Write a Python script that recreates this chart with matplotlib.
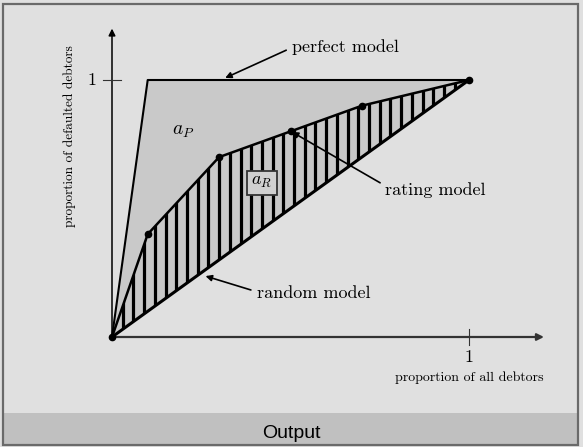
import numpy as np
import matplotlib
matplotlib.use("Agg")
import matplotlib.pyplot as plt
from matplotlib.patches import Polygon, Rectangle

plt.rcParams['mathtext.fontset'] = 'cm'
plt.rcParams['font.family'] = ['cmr10', 'DejaVu Serif']

# curve data
perfect_x = [0.0, 0.1, 1.0]
perfect_y = [0.0, 1.0, 1.0]
rating_x = [0.0, 0.1, 0.3, 0.5, 0.7, 1.0]
rating_y = [0.0, 0.4, 0.7, 0.8, 0.9, 1.0]
random_x = [0.0, 1.0]
random_y = [0.0, 1.0]

W, H = 583, 447
fig = plt.figure(figsize=(W / 100, H / 100), dpi=100, facecolor='#e0e0e0')

# window frame and the Output bar (behind the axes)
fig.add_artist(Rectangle((3 / W, 2 / H), 575 / W, 32 / H, transform=fig.transFigure,
                         facecolor='#c0c0c0', edgecolor='none', zorder=-5))
fig.add_artist(Rectangle((3 / W, 2 / H), 575 / W, 441 / H, transform=fig.transFigure,
                         facecolor='none', edgecolor='#6a6a6a', linewidth=1.6,
                         zorder=-4))
fig.text(291 / W, (447 - 434) / H, 'Output', ha='center', va='center',
         fontsize=14, family='Liberation Sans', color='black')

# axes mapped so that (0,0) sits at pixel (112,337), (1,1) at (469,80)
ax = fig.add_axes([0, 0, 1, 1])
ax.set_facecolor('none')
sx, sy = 357.0, 257.0
ax.set_xlim(-112 / sx, (W - 112) / sx)
ax.set_ylim(-(H - 337) / sy, 337 / sy)
ax.axis('off')

# gray area between perfect model and random model
gray = Polygon(list(zip(perfect_x, perfect_y)), closed=True,
               facecolor='#c9c9c9', edgecolor='none', zorder=1)
ax.add_patch(gray)

# hatched area between rating model and random model
clip = Polygon(list(zip(rating_x, rating_y)), closed=True,
               facecolor='none', edgecolor='none')
ax.add_patch(clip)
hx = np.arange(0.03, 1.0, 0.03)
vl = ax.vlines(hx, 0, 1, colors='black', linewidth=2.3, zorder=2)
vl.set_clip_path(clip)

# curves
ax.plot(perfect_x, perfect_y, color='black', linewidth=1.5, zorder=3)
ax.plot(rating_x, rating_y, color='black', linewidth=1.8, zorder=3)
ax.plot(random_x, random_y, color='black', linewidth=2.2, zorder=3)
ax.plot(rating_x, rating_y, 'o', color='black', markersize=4.5, zorder=4)

# coordinate axes
ax.annotate('', xy=(1.21, 0), xytext=(0, 0),
            arrowprops=dict(arrowstyle='-|>', color='#333333', lw=1.6,
                            mutation_scale=10, shrinkA=0, shrinkB=0), zorder=2)
ax.annotate('', xy=(0, 1.2), xytext=(0, 0),
            arrowprops=dict(arrowstyle='-|>', color='black', lw=1.1,
                            mutation_scale=10, shrinkA=0, shrinkB=0), zorder=2)
ax.plot([-0.025, 0.025], [1, 1], color='#333333', linewidth=0.8)
ax.plot([1, 1], [-0.03, 0.03], color='#333333', linewidth=0.8)

ax.text(-0.055, 1.0, '1', ha='center', va='center', fontsize=13)
ax.text(1.0, -0.078, '1', ha='center', va='center', fontsize=13)
ax.text(1.0, -0.16, 'proportion of all debtors', ha='center', va='center',
        fontsize=10)
ax.text(-0.118, 0.78, 'proportion of defaulted debtors', ha='center',
        va='center', rotation=90, fontsize=9.6)

# area labels
ax.text(0.2, 0.80, r'$a_P$', ha='center', va='center', fontsize=14)
ax.text(0.42, 0.60, r'$a_R$', ha='center', va='center', fontsize=13, zorder=5,
        bbox=dict(boxstyle='square,pad=0.25', facecolor='#d0d0d0',
                  edgecolor='#333333', linewidth=1.3))

# model labels with arrows
arrow = dict(arrowstyle='-|>', color='black', lw=1.2, mutation_scale=9,
             shrinkA=0, shrinkB=0)
ax.text(0.504, 1.128, 'perfect model', va='center', ha='left', fontsize=13)
ax.annotate('', xy=(0.317, 1.008), xytext=(0.488, 1.116), arrowprops=arrow)
ax.text(0.765, 0.572, 'rating model', va='center', ha='left', fontsize=13)
ax.annotate('', xy=(0.504, 0.798), xytext=(0.751, 0.600), arrowprops=arrow,
            zorder=6)
ax.text(0.406, 0.171, 'random model', va='center', ha='left', fontsize=13)
ax.annotate('', xy=(0.262, 0.237), xytext=(0.389, 0.183), arrowprops=arrow)

fig.savefig('out.png', dpi=100, facecolor=fig.get_facecolor())
